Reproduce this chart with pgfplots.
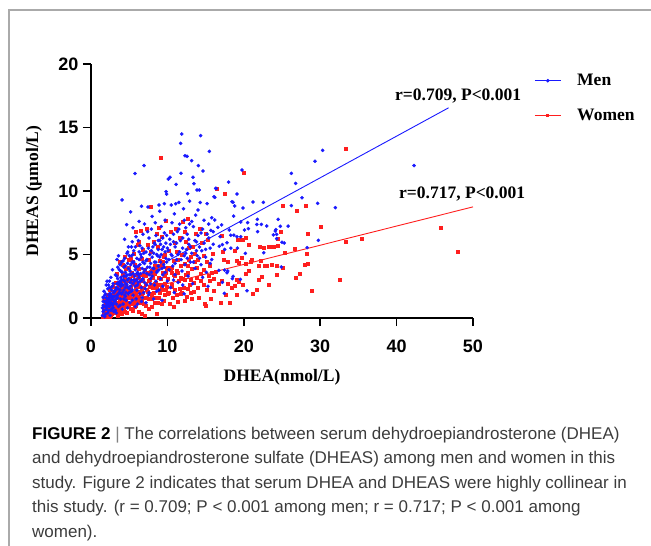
\documentclass[border=0pt]{standalone}
\usepackage{pgfplots}
\pgfplotsset{compat=1.18}
\usepackage{fontspec}
\setmainfont{Liberation Serif}
\setsansfont{Liberation Sans}
\definecolor{menc}{RGB}{25,25,255}
\definecolor{womc}{RGB}{255,30,30}
\definecolor{capc}{RGB}{60,60,60}
\definecolor{framec}{RGB}{170,170,170}
\begin{document}
\begin{tikzpicture}[x=1pt,y=1pt]
\useasboundingbox (0,0) rectangle (651,-546);
\draw[framec, line width=1.3pt] (9,-546) -- (9,-10) -- (651,-10);
\begin{axis}[
  at={(91pt,-318pt)}, anchor=south west,
  width=382pt, height=254pt, scale only axis,
  xmin=0,xmax=50,ymin=0,ymax=20,
  axis lines=left, axis line style={-, line width=1.6pt},
  xtick={0,10,20,30,40,50}, ytick={0,5,10,15,20},
  tick align=outside, major tick length=8pt,
  every tick/.style={black, line width=1.6pt},
  tick label style={font=\sffamily\bfseries\fontsize{18}{18}\selectfont},
  xticklabel style={yshift=-10pt},
  yticklabel style={xshift=-1pt},
  /pgf/number format/assume math mode=true,
  xlabel={DHEA(nmol/L)}, ylabel={DHEAS (μmol/L)},
  label style={font=\bfseries\fontsize{17.5}{17.5}\selectfont},
  xlabel style={at={(axis description cs:0.5,-0.2323)}, anchor=center},
  ylabel style={at={(axis description cs:-0.1492,0.5)}, anchor=center},
  clip=false,
  legend cell align=left,
  legend style={draw=none, fill=none, at={(1.160,0.9606)}, anchor=north west,
    inner sep=0pt, row sep=22pt, column sep=16pt,
    font=\bfseries\fontsize{17.5}{17.5}\selectfont,
    nodes={inner sep=0pt}},
  legend image code/.code={\draw[mark repeat=2,mark phase=2,#1] plot coordinates {(0pt,0pt) (13pt,0pt) (26pt,0pt)};},
]
% Women
\addplot[only marks, mark=square*, mark size=1.5pt, color=womc, forget plot] coordinates {
(1.5,0.1)(1.6,0.4)(1.7,0.2)(1.8,0.8)(1.9,0.5)(2.0,1.2)(2.1,0.3)(2.2,0.9)(2.3,1.5)(2.4,0.6)(2.5,1.1)(2.6,0.2)(2.7,1.7)(2.8,0.8)(2.9,1.3)(3.0,0.4)(1.6,1.0)(2.0,0.1)(2.2,1.8)(2.4,2.2)(2.6,1.4)(2.8,0.5)(3.0,2.0)(1.8,1.5)(2.1,0.7)(2.5,0.4)(2.9,2.5)(2.3,0.2)(2.7,1.0)(1.9,1.1)
(3.1,0.9)(3.2,1.6)(3.3,0.5)(3.4,2.3)(3.5,1.2)(3.6,0.3)(3.7,1.9)(3.8,2.8)(3.9,0.8)(4.0,1.5)(4.1,3.4)(4.2,2.1)(4.3,0.6)(4.4,1.3)(4.5,2.6)(4.6,3.9)(4.7,1.0)(4.8,2.2)(4.9,4.6)(5.0,1.7)(3.2,2.8)(3.5,0.2)(3.8,1.4)(4.1,2.5)(4.4,3.2)(4.7,0.4)(3.3,3.5)(3.6,1.1)(3.9,2.0)(4.2,4.2)(4.5,0.9)(4.8,3.0)(3.4,1.0)(4.0,0.3)(4.6,1.8)(4.9,2.9)(3.7,4.4)(4.3,2.9)(5.0,4.0)(4.4,4.8)
(5.1,2.4)(5.2,0.7)(5.3,3.6)(5.4,1.5)(5.5,4.4)(5.6,2.0)(5.7,0.9)(5.8,3.0)(5.9,6.8)(6.0,1.3)(6.1,4.0)(6.2,2.6)(6.3,0.5)(6.4,3.4)(6.5,6.9)(6.6,1.9)(6.7,4.7)(6.8,2.9)(6.9,1.1)(7.0,3.8)(5.3,1.1)(5.6,5.1)(5.9,2.3)(6.2,1.7)(6.5,3.0)(6.8,5.4)(5.4,2.8)(5.7,4.2)(6.0,2.7)(6.3,3.9)(6.6,0.3)(6.9,2.4)(5.5,0.6)(5.8,1.8)(6.1,5.8)(6.4,1.4)(6.7,2.2)(7.0,0.2)(5.2,4.7)(6.3,6.0)
(7.1,1.6)(7.2,3.3)(7.3,7.0)(7.4,2.1)(7.5,4.6)(7.6,0.7)(7.7,3.0)(7.81,8.74)(7.8,5.2)(7.9,1.8)(8.0,3.7)(8.1,2.4)(8.2,6.0)(8.3,1.2)(8.4,4.1)(8.5,2.8)(8.6,0.3)(8.7,5.6)(8.8,3.2)(8.9,1.6)(9.0,4.5)(9.12,12.60)(9.2,2.3)(9.3,6.4)(9.4,3.6)(9.5,1.4)(9.6,5.0)(9.7,2.7)(9.8,7.7)(9.9,3.9)(10.0,1.9)(7.4,5.8)(8.0,0.9)(8.6,6.6)(9.2,4.1)(9.8,2.2)(7.7,2.5)(8.3,3.5)(8.9,7.1)(9.5,4.8)
(10.1,3.1)(10.2,5.3)(10.3,1.1)(10.4,6.8)(10.5,2.6)(10.6,4.0)(10.7,1.6)(10.8,3.4)(10.9,5.9)(11.0,2.2)(11.1,7.0)(11.2,3.7)(11.3,1.3)(11.4,4.6)(11.5,2.9)(11.6,6.3)(11.7,3.2)(11.8,1.9)(11.9,5.0)(12.0,7.6)(12.1,2.4)(12.2,4.3)(12.3,3.0)(12.4,6.0)(12.5,1.7)(12.6,7.8)(12.7,3.6)(12.8,5.5)(12.9,2.6)(13.0,4.8)(10.5,3.6)(11.2,5.2)(11.9,2.0)(12.6,4.1)(10.8,0.9)(12.2,6.8)
(13.1,3.0)(13.3,5.6)(13.5,2.1)(13.7,6.6)(13.9,4.0)(14.1,1.6)(14.3,3.5)(14.5,5.9)(14.7,2.6)(14.92,1.15)(14.97,0.99)(15.1,4.4)(15.3,6.2)(15.5,2.9)(15.7,1.5)(15.9,5.1)(13.6,4.4)(14.2,7.0)(14.8,3.8)(15.4,3.3)(13.2,1.5)(14.0,2.4)(15.0,6.6)(15.8,3.6)(16.01,2.15)
(16.27,3.67)(16.49,10.21)(16.7,2.67)(17.0,1.2)(17.1,6.46)(17.1,2.94)(17.28,5.22)(17.37,4.57)(17.50,9.79)(17.6,1.81)(17.9,4.46)(17.9,2.73)(18.1,1.2)(18.4,2.41)(18.8,5.28)(18.85,2.55)(19.03,2.99)(19.1,1.81)(19.11,4.51)(19.2,6.15)(19.3,4.35)(19.3,2.88)(19.7,6.15)(19.7,4.77)(19.8,2.62)(19.9,6.15)(19.94,11.44)(18.2,1.24)
(20.2,4.30)(20.29,3.52)(20.3,6.33)(20.6,5.78)(20.6,3.70)(20.9,4.43)(20.99,4.59)(21.1,1.89)(21.7,2.26)(21.9,3.0)(22.0,4.09)(22.1,5.62)(22.25,4.51)(22.3,3.26)(22.56,5.56)(22.7,4.09)(23.0,4.09)(23.2,5.6)(23.2,2.62)(23.6,4.17)(23.7,5.64)(23.9,5.62)(24.4,6.22)(24.3,3.44)(24.35,4.12)(24.5,5.72)(24.87,6.80)(25.04,8.85)(25.04,3.96)(25.4,5.14)(26.6,5.49)(26.8,3.2)(26.88,8.43)(27.3,3.46)(28.0,4.22)(28.14,8.85)(28.2,5.04)(28.32,6.67)(28.32,4.25)(28.93,2.18)(30.10,7.19)(32.50,2.99)(33.29,13.33)(33.38,5.98)(35.43,6.25)(45.72,7.11)(47.95,5.20)
(1.7,0.6)(1.8,0.3)(2.0,0.5)(2.1,1.0)(2.2,0.4)(2.3,0.8)(2.4,1.3)(2.5,0.7)(2.6,0.9)(2.7,0.3)(2.8,1.2)(2.9,0.6)(3.0,1.1)(2.4,0.1)(2.9,1.8)
(3.1,1.3)(3.2,0.4)(3.3,1.9)(3.4,0.7)(3.5,2.0)(3.6,1.6)(3.7,0.6)(3.8,2.2)(3.9,1.2)(4.0,2.3)(4.1,1.0)(4.2,1.6)(4.3,2.4)(4.4,0.5)(4.5,1.5)(4.6,2.5)(4.7,1.9)(4.8,1.2)(4.9,2.2)(5.0,0.9)(5.1,1.6)(5.2,2.5)(5.3,1.9)(5.4,3.3)(5.5,1.3)(5.6,2.7)(5.7,1.7)(5.8,2.4)(5.9,1.0)(6.0,3.4)(3.6,2.6)(4.4,2.1)(5.1,3.1)(5.7,2.9)(4.1,1.8)
(6.1,2.1)(6.2,3.2)(6.3,1.5)(6.4,2.5)(6.5,1.2)(6.6,3.0)(6.7,1.4)(6.8,2.0)(6.9,3.4)(7.0,1.6)(7.1,2.7)(7.2,1.0)(7.3,2.2)(7.4,3.6)(7.5,1.5)(7.6,2.9)(7.7,1.9)(7.8,3.5)(7.9,2.6)(8.0,1.5)(8.1,3.2)(8.2,2.0)(8.3,2.7)(8.4,1.6)(8.5,3.8)(8.6,2.4)(8.7,1.2)(8.8,2.6)(8.9,4.1)(9.0,2.0)(9.1,3.1)(9.2,1.1)(9.3,2.6)(9.4,4.4)(9.5,2.2)(9.6,3.3)(9.7,1.8)(9.8,3.6)(9.9,2.5)(10.0,4.0)
(10.2,2.0)(10.4,3.8)(10.6,2.5)(10.8,4.5)(11.0,3.3)(11.2,1.8)(11.4,3.6)(11.6,2.3)(11.8,4.1)(12.0,3.1)(12.2,1.4)(12.4,3.4)(12.6,2.3)(12.8,4.6)(13.0,2.0)(13.2,3.9)(13.4,2.8)(13.6,5.1)(13.8,3.2)(14.0,4.6)(14.4,2.9)(14.8,4.9)(15.2,2.2)(15.6,4.1)(16.0,3.1)
};
% Men
\addplot[only marks, mark=*, mark size=1.6pt, color=menc, forget plot] coordinates {
(1.5,0.2)(1.6,0.5)(1.7,0.9)(1.8,1.3)(1.9,0.3)(1.6,1.6)(2.0,0.7)(2.1,1.1)(2.2,0.4)(2.3,1.8)(2.4,0.9)(2.5,1.4)(2.6,0.6)(2.7,2.2)(2.8,1.0)(2.9,1.7)(3.0,0.5)(1.7,2.1)(2.0,2.6)(2.2,1.5)(2.4,2.9)(2.5,0.2)(2.6,1.9)(2.8,2.5)(1.8,0.1)(2.1,0.9)(2.3,0.6)(2.7,1.2)(2.9,0.8)(3.0,2.0)(1.9,1.9)(2.0,1.2)(2.6,3.2)(2.2,2.3)(1.6,1.0)(2.4,1.2)(2.8,3.8)(2.1,2.9)(2.9,2.7)(1.5,0.8)
(3.1,1.3)(3.2,0.6)(3.3,2.4)(3.4,1.8)(3.5,3.1)(3.6,0.9)(3.7,2.0)(3.8,4.2)(3.9,1.5)(4.0,2.7)(4.1,3.6)(4.2,1.1)(4.3,2.2)(4.4,4.7)(4.5,1.7)(4.6,3.3)(4.7,2.6)(4.8,0.8)(4.9,3.9)(5.0,2.3)(3.2,3.4)(3.4,4.6)(3.6,2.8)(3.8,1.0)(4.0,1.9)(4.2,3.0)(4.4,2.9)(4.6,1.4)(4.8,4.3)(3.3,0.4)(3.5,1.6)(3.7,3.8)(3.9,2.5)(4.1,0.7)(4.3,4.0)(4.5,2.4)(4.7,5.1)(4.9,1.9)(3.1,2.1)(3.6,4.9)(4.06,9.3)(4.67,7.35)(4.4,6.2)(4.9,5.6)(3.9,3.2)(4.2,4.5)(4.6,2.0)(3.4,2.7)(4.8,3.0)(5.0,4.9)
(5.1,1.2)(5.2,3.4)(5.19,8.35)(5.3,2.1)(5.4,4.4)(5.5,1.8)(5.6,5.3)(5.76,11.37)(5.7,2.9)(5.8,3.8)(5.9,1.5)(6.0,4.7)(6.1,2.6)(6.2,6.1)(6.3,3.2)(6.4,1.9)(6.5,5.0)(6.6,2.4)(6.7,3.9)(6.8,6.6)(6.9,2.0)(7.0,4.3)(5.2,2.5)(5.4,6.0)(5.6,3.0)(5.8,0.9)(6.0,3.5)(6.2,4.1)(6.4,5.7)(6.6,1.3)(6.8,3.1)(5.3,4.9)(5.5,2.7)(5.7,4.1)(5.9,6.4)(6.1,1.1)(6.3,4.6)(6.5,2.9)(6.7,5.5)(6.9,3.6)(5.1,3.7)(6.94,12.0)(5.5,7.1)(6.3,7.6)(6.6,8.8)(5.8,5.6)(6.0,2.2)(6.7,1.6)(5.4,1.4)(6.2,3.4)
(7.1,2.3)(7.2,5.2)(7.3,3.5)(7.46,8.74)(7.5,1.8)(7.6,6.3)(7.7,4.0)(7.8,2.7)(7.9,7.0)(8.0,3.3)(8.1,5.6)(8.2,1.5)(8.3,4.4)(8.4,7.5)(8.5,2.9)(8.6,5.0)(8.7,3.7)(8.8,6.1)(8.9,2.2)(9.0,4.8)(9.1,3.1)(9.2,7.2)(9.3,5.4)(9.4,2.5)(9.5,4.2)(9.6,6.7)(9.7,3.6)(9.82,9.95)(9.9,9.76)(9.8,5.9)(10.0,2.9)(7.3,4.6)(7.6,2.0)(7.9,5.3)(8.2,3.9)(8.5,6.5)(8.8,4.1)(9.1,5.8)(9.4,3.4)(9.7,7.7)(7.4,6.8)(8.0,8.0)(8.6,2.1)(9.0,8.4)(9.3,1.4)(9.6,9.0)(7.8,3.1)(8.3,5.9)(9.9,4.4)(7.0,7.4)(8.9,8.9)(7.2,1.2)
(10.12,10.94)(10.34,11.08)(10.2,3.8)(10.3,6.2)(10.4,2.4)(10.5,5.0)(10.6,7.5)(10.7,4.1)(10.8,3.0)(10.9,8.2)(11.0,5.6)(11.13,10.52)(11.2,4.6)(11.3,6.8)(11.4,2.8)(11.5,9.1)(11.6,5.2)(11.74,13.75)(11.78,11.39)(11.87,14.49)(11.9,3.7)(12.0,6.3)(12.1,8.6)(12.2,4.9)(12.30,12.78)(12.4,7.1)(12.57,12.73)(12.65,9.79)(12.7,3.3)(12.8,5.8)(12.9,7.4)(13.0,4.4)(10.5,8.9)(11.0,3.4)(11.5,7.0)(12.0,2.6)(12.5,5.4)(10.8,6.0)(11.7,6.1)(12.3,4.2)(12.9,9.2)(10.1,5.3)(11.1,9.0)(12.6,6.6)(10.9,2.0)(12.2,1.9)
(13.18,12.39)(13.35,11.08)(13.48,10.58)(13.87,10.08)(14.05,12.0)(14.18,10.08)(14.35,14.36)(14.66,11.57)(13.2,5.1)(13.4,7.2)(13.6,3.9)(13.8,6.0)(14.0,8.5)(14.2,4.7)(14.4,6.7)(14.6,3.2)(14.8,7.7)(15.0,5.4)(15.2,9.0)(15.49,13.12)(15.4,6.3)(15.6,4.3)(15.8,7.9)(16.0,5.8)(13.3,2.7)(13.9,4.9)(14.5,5.3)(15.1,3.6)(15.7,6.9)(14.3,9.1)(13.7,8.1)(15.3,2.5)(16.10,9.55)(16.32,10.21)
(16.4,10.2)(16.2,9.5)(16.2,7.72)(16.6,7.14)(16.9,6.4)(16.8,5.65)(16.75,3.75)(17.1,7.33)(17.2,5.78)(17.5,5.40)(17.8,5.93)(17.5,3.77)(17.9,3.70)(17.8,3.57)(17.2,2.81)(17.45,1.94)(18.0,10.7)(18.46,9.16)(18.59,9.11)(18.8,8.82)(18.67,8.03)(18.1,6.93)(18.7,6.52)(18.3,6.52)(18.3,5.5)(19.16,5.51)(19.6,6.4)(19.1,6.4)(19.6,7.56)(18.6,3.28)(18.5,3.1)(19.11,9.76)(19.76,11.65)(19.9,8.66)(19.55,3.04)(20.1,6.93)
(20.6,7.03)(20.51,7.51)(20.42,2.15)(20.2,5.09)(21.2,9.13)(21.77,7.77)(21.8,6.8)(21.7,7.37)(22.3,7.37)(22.56,9.11)(22.60,5.14)(23.0,7.24)(23.87,6.54)(24.13,6.85)(24.2,6.96)(24.3,6.59)(24.3,6.25)(24.5,7.77)(24.78,7.22)(24.91,4.02)(25.0,5.96)(25.3,5.91)(25.8,7.24)(26.22,11.39)(26.22,8.85)(26.79,10.60)(27.62,9.47)(28.3,5.54)(29.32,12.34)(29.67,9.03)(29.76,6.12)(30.32,13.20)(31.98,8.69)(42.28,12.0)
(1.6,1.3)(1.7,0.6)(1.9,0.9)(2.0,1.6)(2.1,1.4)(2.2,1.0)(2.3,1.2)(2.4,1.6)(2.5,1.9)(2.6,1.1)(2.7,0.7)(2.8,1.5)(2.9,1.1)(3.0,1.4)(1.8,1.8)(2.5,2.4)(2.7,1.7)(2.3,2.6)
(3.1,1.7)(3.2,2.2)(3.3,1.1)(3.4,3.3)(3.5,2.3)(3.6,1.9)(3.7,2.6)(3.8,2.2)(3.9,3.7)(4.0,3.0)(4.1,2.0)(4.2,2.6)(4.3,3.3)(4.4,1.8)(4.5,3.6)(4.6,2.7)(4.7,3.4)(4.8,2.4)(4.9,3.1)(5.0,2.0)(5.1,2.8)(5.2,4.2)(5.3,3.0)(5.4,2.2)(5.5,3.5)(5.6,4.4)(5.7,3.3)(5.8,2.5)(5.9,4.0)(6.0,3.0)(3.5,4.0)(4.0,4.4)(4.5,4.1)(5.0,3.4)(5.5,5.0)(3.3,1.5)(3.8,2.9)(4.3,1.5)(4.8,5.2)(5.3,5.6)
(6.1,3.6)(6.2,2.8)(6.3,5.2)(6.4,4.2)(6.5,3.5)(6.6,4.8)(6.7,3.0)(6.8,4.4)(6.9,5.1)(7.0,2.8)(7.1,3.8)(7.2,4.5)(7.3,2.6)(7.4,4.0)(7.5,5.5)(7.6,3.4)(7.7,5.0)(7.8,4.3)(7.9,3.6)(8.0,4.8)(8.1,3.9)(8.2,5.1)(8.3,2.6)(8.4,5.8)(8.5,4.4)(8.6,3.6)(8.7,4.9)(8.8,5.4)(8.9,3.8)(9.0,6.1)(9.1,4.4)(9.2,5.0)(9.3,3.9)(9.4,6.3)(9.5,5.6)(9.6,4.0)(9.7,5.2)(9.8,4.7)(9.9,6.5)(10.0,5.5)
(10.2,4.6)(10.4,5.8)(10.6,4.9)(10.8,6.6)(11.0,4.3)(11.2,5.9)(11.4,5.0)(11.6,7.4)(11.8,4.6)(12.0,5.5)(12.2,7.7)(12.4,5.1)(12.6,4.7)(12.8,6.2)(13.0,5.6)(13.2,7.6)(13.4,4.4)(13.6,6.1)(13.8,5.3)(14.0,6.5)(14.2,5.6)(14.4,4.2)(14.6,7.0)(14.8,5.9)(15.0,4.8)(15.2,6.6)(15.4,7.4)(15.6,5.5)(15.8,4.6)(16.0,6.8)
};
% regression lines
\addplot[menc, line width=0.9pt, forget plot] coordinates {(1.4,1.66) (46.8,16.55)};
\addplot[womc, line width=0.9pt, forget plot] coordinates {(1.4,1.41) (50,8.75)};
\addlegendimage{menc, line width=0.9pt, mark=*, mark size=1.3pt}
\addlegendentry{Men}
\addlegendimage{womc, line width=0.9pt, mark=square*, mark size=1.1pt}
\addlegendentry{Women}
\end{axis}
\node[anchor=west, font=\bfseries\fontsize{17.5}{17.5}\selectfont, inner sep=0pt] at (395,-96) {r=0.709, P<0.001};
\node[anchor=west, font=\bfseries\fontsize{17.5}{17.5}\selectfont, inner sep=0pt] at (399,-194) {r=0.717, P<0.001};
\begin{scope}[every node/.style={anchor=base west, inner sep=0pt, font=\sffamily\fontsize{17}{17}\selectfont, text=capc}]
\node at (32,-439) {{\color{black}\bfseries FIGURE 2} {\color{gray}|} The correlations between serum dehydroepiandrosterone (DHEA)};
\node at (32,-463.5) {and dehydroepiandrosterone sulfate (DHEAS) among men and women in this};
\node at (32,-488) {study. Figure 2 indicates that serum DHEA and DHEAS were highly collinear in};
\node at (32,-512.5) {this study. (r = 0.709; P < 0.001 among men; r = 0.717; P < 0.001 among};
\node at (32,-537) {women).};
\end{scope}
\end{tikzpicture}
\end{document}
